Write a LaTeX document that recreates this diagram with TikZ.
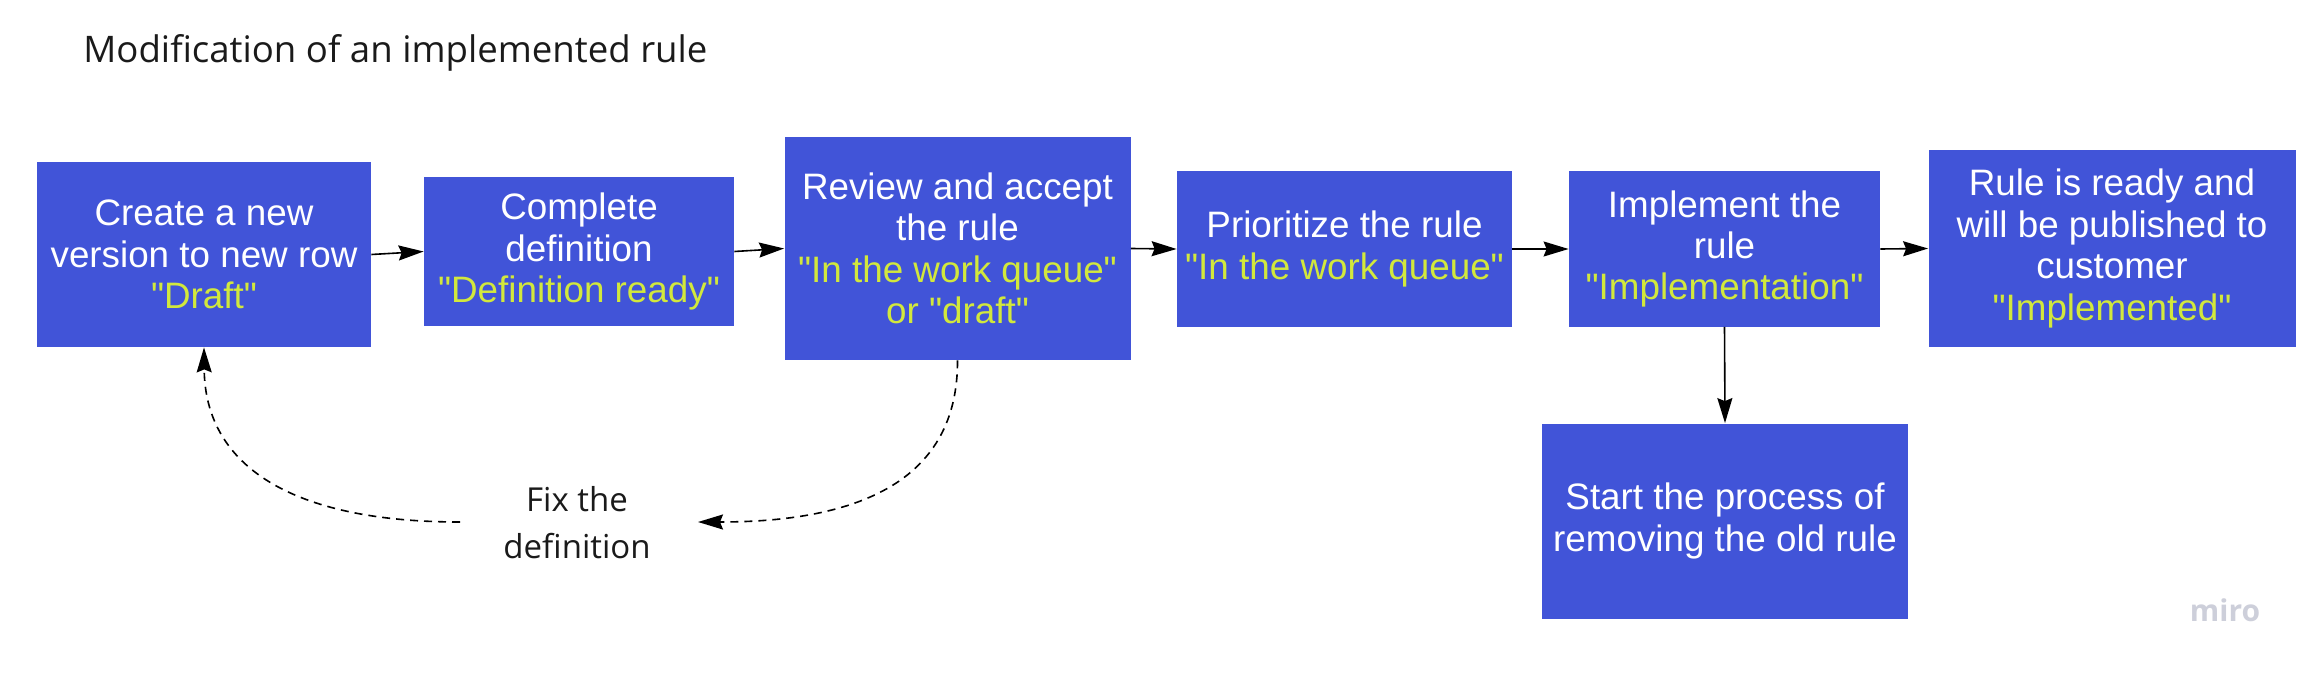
\documentclass[tikz,border=0pt]{standalone}
\usepackage{fontspec}
\setmainfont{Liberation Sans}[Ligatures=TeXOff]
\newfontfamily\opensans{Open Sans}
\usetikzlibrary{arrows.meta}
\definecolor{boxblue}{RGB}{65,84,216}
\definecolor{statusyellow}{RGB}{210,232,60}
\definecolor{mirogray}{RGB}{205,207,218}
\definecolor{titlegray}{RGB}{26,26,26}
\newcommand{\stat}[1]{\textcolor{statusyellow}{#1}}
\begin{document}
\begin{tikzpicture}[x=0.5pt,y=-0.5pt,
  stepbox/.style={fill=boxblue, text=white, align=center, inner sep=0pt,
    font=\fontsize{18.4pt}{20.7pt}\selectfont},
  flow/.style={draw=black, line width=0.8pt, -{Stealth[length=12.5pt,width=7.5pt,inset=1.5pt]}},
  back/.style={flow, dash pattern=on 4pt off 3pt},
  plain/.style={text=titlegray, inner sep=0pt, font=\opensans\fontsize{16.5pt}{23.5pt}\selectfont},
]
\useasboundingbox (0,0) rectangle (2315,674);

\node[plain, anchor=west, font=\opensans\fontsize{18.3pt}{22pt}\selectfont] (title) at (83,53) {Modification of an implemented rule};

\node[stepbox, minimum width=167pt, minimum height=92.5pt] (b1) at (204,254.5)
  {Create a new\\version to new row\\\stat{"Draft"}};
\node[stepbox, minimum width=155pt, minimum height=74.5pt] (b2) at (579,251.5)
  {Complete\\definition\\\stat{"Definition ready"}};
\node[stepbox, minimum width=173pt, minimum height=111.5pt] (b3) at (957.5,248.5)
  {Review and accept\\the rule\\\stat{"In the work queue"}\\\stat{or "draft"}};
\node[stepbox, minimum width=167.5pt, minimum height=77.5pt] (b4) at (1344.5,249)
  {Prioritize the rule\\\stat{"In the work queue"}};
\node[stepbox, minimum width=155.5pt, minimum height=77.5pt] (b5) at (1724.5,249)
  {Implement the\\rule\\\stat{"Implementation"}};
\node[stepbox, minimum width=183.5pt, minimum height=98.5pt] (b6) at (2112,248.5)
  {Rule is ready and\\will be published to\\customer\\\stat{"Implemented"}};
\node[stepbox, minimum width=183pt, minimum height=97.5pt] (b7) at (1725,521)
  {Start the process of\\removing the old rule};

\draw[flow] (b1.east) -- (b2.west);
\draw[flow] (b2.east) -- (b3.west);
\draw[flow] (b3.east) -- (b4.west);
\draw[flow] (b4.east) -- (b5.west);
\draw[flow] (b5.east) -- (b6.west);
\draw[flow] (b5.south) -- (b7.north);

\node[plain, align=center] (fix) at (577,523) {Fix the\\definition};
\coordinate (fixR) at (698,522);
\coordinate (fixL) at (460,522);
\draw[back] (b3.south) .. controls (958,480) and (860,522) .. (fixR);
\draw[back] (fixL) .. controls (290,522) and (205,465) .. (b1.south);

\node[text=mirogray, inner sep=0pt, font=\opensans\bfseries\fontsize{15pt}{15pt}\selectfont] (miro) at (2225,610) {miro};
\end{tikzpicture}
\end{document}
